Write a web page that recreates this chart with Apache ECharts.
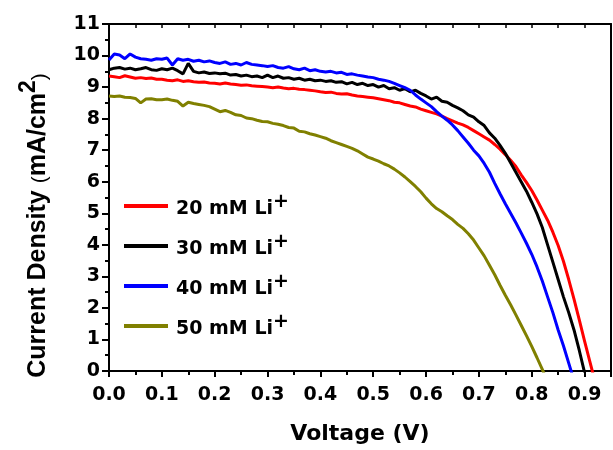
<!DOCTYPE html>
<html>
<head>
<meta charset="utf-8">
<script src="https://cdn.jsdelivr.net/npm/echarts@6/dist/echarts.min.js"></script>
<style>
    html, body { margin: 0; padding: 0; background: #fff; }
    #jv-chart { width: 613px; height: 450px; }
</style>
</head>
<body>
<div id="jv-chart"></div>
<script>
    // voltage grid (V), every 0.01 V
    var volts = [
        0.00, 0.01, 0.02, 0.03, 0.04, 0.05, 0.06, 0.07, 0.08, 0.09,
        0.10, 0.11, 0.12, 0.13, 0.14, 0.15, 0.16, 0.17, 0.18, 0.19,
        0.20, 0.21, 0.22, 0.23, 0.24, 0.25, 0.26, 0.27, 0.28, 0.29,
        0.30, 0.31, 0.32, 0.33, 0.34, 0.35, 0.36, 0.37, 0.38, 0.39,
        0.40, 0.41, 0.42, 0.43, 0.44, 0.45, 0.46, 0.47, 0.48, 0.49,
        0.50, 0.51, 0.52, 0.53, 0.54, 0.55, 0.56, 0.57, 0.58, 0.59,
        0.60, 0.61, 0.62, 0.63, 0.64, 0.65, 0.66, 0.67, 0.68, 0.69,
        0.70, 0.71, 0.72, 0.73, 0.74, 0.75, 0.76, 0.77, 0.78, 0.79,
        0.80, 0.81, 0.82, 0.83, 0.84, 0.85, 0.86, 0.87, 0.88, 0.89,
        0.90, 0.91, 0.92
    ];

    // current density (mA/cm2)
    var li20 = [
        9.35, 9.33, 9.30, 9.36, 9.32, 9.28, 9.30, 9.27, 9.29, 9.25,
        9.25, 9.22, 9.20, 9.23, 9.18, 9.20, 9.17, 9.15, 9.16, 9.13,
        9.12, 9.10, 9.13, 9.10, 9.08, 9.06, 9.07, 9.04, 9.03, 9.02,
        9.00, 8.98, 9.00, 8.97, 8.95, 8.96, 8.93, 8.92, 8.90, 8.88,
        8.85, 8.83, 8.84, 8.80, 8.78, 8.79, 8.75, 8.72, 8.70, 8.68,
        8.66, 8.63, 8.60, 8.57, 8.52, 8.50, 8.45, 8.40, 8.37, 8.30,
        8.25, 8.20, 8.15, 8.08, 8.00, 7.93, 7.86, 7.80, 7.72, 7.62,
        7.52, 7.42, 7.32, 7.18, 7.03, 6.86, 6.68, 6.48, 6.22, 5.98,
        5.72, 5.42, 5.10, 4.78, 4.40, 3.98, 3.48, 2.90, 2.28, 1.62,
        0.95, 0.30, -0.35
    ];
    var li30 = [
        9.55, 9.60, 9.62, 9.57, 9.60, 9.55, 9.58, 9.62, 9.55, 9.53,
        9.58, 9.55, 9.60, 9.52, 9.42, 9.75, 9.50, 9.45, 9.48, 9.43,
        9.45, 9.42, 9.44, 9.38, 9.40, 9.35, 9.38, 9.33, 9.35, 9.30,
        9.38, 9.30, 9.35, 9.28, 9.30, 9.25, 9.28, 9.22, 9.25, 9.20,
        9.22, 9.18, 9.20, 9.15, 9.17, 9.10, 9.15, 9.08, 9.12, 9.05,
        9.08, 9.00, 9.05, 8.95, 8.98, 8.90, 8.95, 8.85, 8.90, 8.80,
        8.72, 8.62, 8.68, 8.55, 8.52, 8.42, 8.34, 8.25, 8.12, 8.05,
        7.90, 7.78, 7.55, 7.38, 7.15, 6.90, 6.60, 6.30, 6.00, 5.70,
        5.35, 4.98, 4.55, 4.00, 3.45, 2.90, 2.35, 1.85, 1.30, 0.65,
        -0.05
    ];
    var li40 = [
        9.86, 10.05, 10.02, 9.90, 10.05, 9.95, 9.90, 9.88, 9.85, 9.90,
        9.88, 9.92, 9.70, 9.90, 9.85, 9.88, 9.82, 9.85, 9.80, 9.83,
        9.78, 9.75, 9.80, 9.72, 9.75, 9.70, 9.78, 9.72, 9.70, 9.68,
        9.65, 9.68, 9.62, 9.60, 9.65, 9.58, 9.55, 9.60, 9.52, 9.55,
        9.50, 9.48, 9.50, 9.45, 9.47, 9.40, 9.42, 9.38, 9.35, 9.32,
        9.30, 9.25, 9.22, 9.18, 9.12, 9.05, 8.98, 8.90, 8.75, 8.62,
        8.50, 8.38, 8.22, 8.08, 7.95, 7.80, 7.62, 7.42, 7.22, 7.00,
        6.82, 6.58, 6.30, 5.95, 5.62, 5.30, 5.00, 4.70, 4.38, 4.05,
        3.70, 3.30, 2.85, 2.35, 1.85, 1.30, 0.80, 0.25, -0.30
    ];
    var li50 = [
        8.72, 8.70, 8.72, 8.68, 8.67, 8.64, 8.50, 8.62, 8.63, 8.60,
        8.60, 8.62, 8.58, 8.55, 8.40, 8.52, 8.48, 8.45, 8.42, 8.38,
        8.30, 8.22, 8.26, 8.20, 8.12, 8.10, 8.02, 8.00, 7.95, 7.91,
        7.90, 7.85, 7.82, 7.78, 7.72, 7.70, 7.60, 7.58, 7.52, 7.48,
        7.43, 7.38, 7.30, 7.24, 7.18, 7.12, 7.06, 6.98, 6.88, 6.78,
        6.72, 6.65, 6.57, 6.50, 6.40, 6.28, 6.15, 6.00, 5.85, 5.68,
        5.48, 5.30, 5.15, 5.05, 4.92, 4.80, 4.65, 4.52, 4.35, 4.15,
        3.90, 3.65, 3.35, 3.05, 2.72, 2.40, 2.10, 1.78, 1.45, 1.12,
        0.78, 0.42, 0.05, -0.35
    ];

    var seriesNames = ['20 mM Li+', '30 mM Li+', '40 mM Li+', '50 mM Li+'];
    var seriesColors = ['#ff0000', '#000000', '#0000ff', '#808000'];
    var seriesData = [li20, li30, li40, li50];

    var xTicks = { min: 0, max: 0.95, interval: 0.1 };
    var yTicks = { min: 0, max: 11, interval: 1 };

    var hFont = 'DejaVu Sans';
    var vFont = 'Liberation Sans';

    function pairs(jv) {
        return jv.map(function (j, i) { return [volts[i], j]; });
    }

    var series = seriesData.map(function (jv, k) {
        return {
            name: seriesNames[k],
            type: 'line',
            data: pairs(jv),
            showSymbol: false,
            symbol: 'none',
            clip: true,
            color: seriesColors[k],
            lineStyle: { width: 3, color: seriesColors[k] }
        };
    });

    var myChart = echarts.init(document.getElementById('jv-chart'));
    var option = {
        animation: false,
        backgroundColor: '#ffffff',
        grid: { left: 109, right: 2, top: 24, bottom: 78, containLabel: false },
        legend: {
            orient: 'vertical',
            left: 124,
            top: 193,
            padding: 0,
            itemWidth: 44,
            itemHeight: 4,
            itemGap: 14,
            icon: 'rect',
            data: seriesNames,
            formatter: function (name) {
                return '{t|' + name.slice(0, -1) + '}{s|+}';
            },
            textStyle: {
                padding: [0, 0, 0, 3],
                rich: {
                    t: { fontFamily: hFont, fontWeight: 'bold', fontSize: 19, color: '#000', lineHeight: 26, verticalAlign: 'bottom' },
                    s: { fontFamily: hFont, fontWeight: 'bold', fontSize: 19, color: '#000', verticalAlign: 'top', lineHeight: 18 }
                }
            }
        },
        xAxis: [
            {
                type: 'value',
                position: 'bottom',
                min: xTicks.min,
                max: xTicks.max,
                interval: xTicks.interval,
                name: 'Voltage (V)',
                nameLocation: 'middle',
                nameGap: 52,
                nameTextStyle: { fontFamily: hFont, fontWeight: 'bold', fontSize: 22, color: '#000' },
                axisLine: { show: true, onZero: false, lineStyle: { color: '#000', width: 2 } },
                axisTick: { show: true, inside: false, length: 6, lineStyle: { color: '#000', width: 2 } },
                minorTick: { show: true, splitNumber: 2, length: 4, lineStyle: { color: '#000', width: 2 } },
                axisLabel: {
                    margin: 15,
                    fontFamily: hFont, fontWeight: 'bold', fontSize: 19, color: '#000',
                    showMaxLabel: false,
                    formatter: function (v) { return v.toFixed(1); }
                },
                splitLine: { show: false }
            },
            {
                type: 'value',
                position: 'top',
                min: xTicks.min,
                max: xTicks.max,
                interval: xTicks.interval,
                axisLine: { show: true, onZero: false, lineStyle: { color: '#000', width: 2 } },
                axisTick: { show: true, inside: true, length: 4, lineStyle: { color: '#000', width: 1.5 } },
                minorTick: { show: true, splitNumber: 2, length: 4, lineStyle: { color: '#000', width: 1.5 } },
                axisLabel: { show: false },
                splitLine: { show: false }
            }
        ],
        yAxis: [
            {
                type: 'value',
                position: 'left',
                min: yTicks.min,
                max: yTicks.max,
                interval: yTicks.interval,
                name: '{a|Current Density }{b|(}{a|mA/cm}{s|2}{b|)}',
                nameLocation: 'middle',
                nameRotate: 90,
                nameGap: 58,
                nameTextStyle: {
                    padding: [0, 56, 0, 0],
                    rich: {
                        a: { fontFamily: vFont, fontWeight: 'bold', fontSize: 25, color: '#000', lineHeight: 34, verticalAlign: 'bottom' },
                        b: { fontFamily: vFont, fontWeight: 'normal', fontSize: 21, color: '#000', lineHeight: 34, verticalAlign: 'bottom' },
                        s: { fontFamily: vFont, fontWeight: 'bold', fontSize: 23, color: '#000', verticalAlign: 'top', lineHeight: 22 }
                    }
                },
                axisLine: { show: true, onZero: false, lineStyle: { color: '#000', width: 2 } },
                axisTick: { show: true, inside: false, length: 7, lineStyle: { color: '#000', width: 2 } },
                minorTick: { show: true, splitNumber: 2, length: 4, lineStyle: { color: '#000', width: 2 } },
                axisLabel: {
                    margin: 9,
                    fontFamily: hFont, fontWeight: 'bold', fontSize: 19, color: '#000'
                },
                splitLine: { show: false }
            },
            {
                type: 'value',
                position: 'right',
                min: yTicks.min,
                max: yTicks.max,
                interval: yTicks.interval,
                axisLine: { show: true, onZero: false, lineStyle: { color: '#000', width: 2 } },
                axisTick: { show: false },
                axisLabel: { show: false },
                splitLine: { show: false }
            }
        ],
        series: series
    };

    myChart.setOption(option);
</script>
</body>
</html>
